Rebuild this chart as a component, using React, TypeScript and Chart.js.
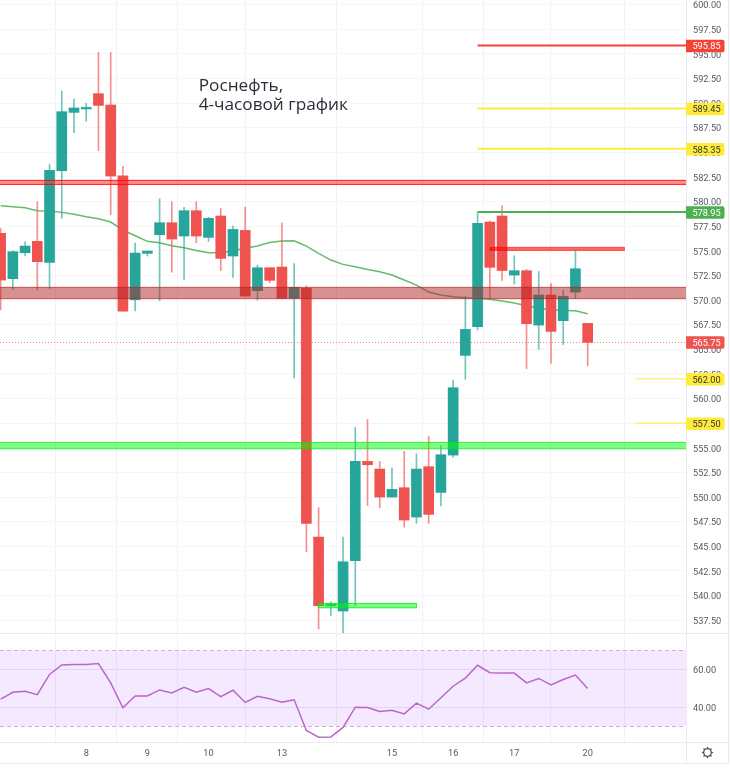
import React, { useEffect, useRef } from "react";
import { Chart, registerables } from "chart.js";

Chart.register(...registerables);

const opens = [576.77,572.17,574.8,575.96,573.82,583.13,589.05,589.4,590.95,589.8,582.62,570.03,574.74,576.63,577.85,576.5,579.07,576.36,578.53,574.47,577.07,570.95,573.28,573.35,570.17,571.2,545.94,538.95,538.43,543.54,553.62,552.84,550.0,550.95,547.97,553.08,550.47,554.26,564.38,567.3,577.92,578.53,572.54,572.98,567.46,570.51,567.9,570.81,567.63];
const closes = [572.03,574.91,575.48,573.89,583.16,589.12,589.5,589.5,589.76,582.59,568.88,574.77,574.97,577.85,576.19,579.07,576.5,578.29,574.23,577.17,570.4,573.28,572.0,570.17,571.29,547.33,538.97,539.1,543.43,553.62,553.28,550.0,550.78,547.67,552.84,548.24,554.3,561.1,567.02,577.79,573.32,573.0,572.98,567.6,570.51,566.82,570.37,573.18,565.7];
const highs = [577.28,575.0,575.92,579.98,583.8,591.2,590.4,589.97,595.14,595.14,583.57,575.79,575.0,580.29,579.98,579.4,579.98,578.4,579.3,577.5,579.44,573.55,573.28,577.85,573.7,571.45,548.92,539.37,545.94,557.07,557.88,553.62,552.94,554.64,554.4,556.19,555.25,561.88,570.41,578.87,578.02,579.6,574.5,573.1,572.9,571.66,571.0,574.98,567.63];
const lows = [568.99,571.08,574.47,571.0,571.18,578.3,586.99,588.14,585.16,578.66,568.88,568.9,574.47,569.93,572.84,572.1,575.82,575.96,572.98,572.3,570.4,570.0,571.76,570.17,562.1,544.45,536.6,537.95,536.23,538.93,549.15,548.92,550.0,546.95,547.33,547.33,549.09,554.03,561.95,566.96,570.14,572.0,571.63,563.03,564.99,563.57,565.47,570.17,563.34];
const maValues = [579.58,579.48,579.37,579.07,579.04,578.9,578.7,578.46,578.26,577.92,577.11,576.53,575.96,575.82,575.52,575.31,575.04,574.8,574.8,575.0,575.25,575.48,575.85,575.99,576.02,575.48,574.74,574.06,573.62,573.38,573.1,572.88,572.54,572.03,571.52,570.81,570.51,570.34,570.24,570.17,570.07,569.9,569.7,569.42,569.19,568.99,568.95,568.92,568.61];
const rsiValues = [44.29,47.86,48.39,46.61,57.32,62.32,62.5,62.59,63.04,52.86,39.64,45.89,45.89,49.11,47.5,50.54,47.86,49.82,45.54,48.93,42.5,45.71,44.46,42.68,43.93,27.68,24.11,24.29,29.29,40,39.82,37.68,38.39,36.43,42.14,38.93,45,51.07,55.36,62.14,58.21,58.04,58.04,52.86,55.18,51.79,54.64,56.96,49.82];

const dateTicks = [7, 12, 17, 23, 32, 37, 42, 48];
const dateLabels = ["8", "9", "10", "13", "15", "16", "17", "20"];
const priceTicks = [600,597.5,595,592.5,590,587.5,585,582.5,580,577.5,575,572.5,570,567.5,565,562.5,560,557.5,555,552.5,550,547.5,545,542.5,540,537.5];
const rsiTicks = [40, 60];
const rsiBand = [30, 70];

const xRange = [-0.05, 56.04];
const priceRange = [536.2, 600.46];
const rsiRange = [21.6, 79.2];

// [top, bottom, fill, stroke, fromIndex, toIndex]
const zones: [number, number, string, string, number, number][] = [
  [582.15, 581.74, "rgba(255,50,50,0.55)", "rgba(255,0,0,0.85)", -1, 57],
  [571.29, 570.14, "rgba(178,34,34,0.5)", "rgba(178,34,34,0.7)", -1, 57],
  [555.55, 554.9, "rgba(0,255,0,0.5)", "rgba(0,230,30,0.7)", -1, 57],
  [539.2, 538.76, "rgba(0,255,0,0.5)", "rgba(0,230,30,0.8)", 26, 34],
  [575.35, 575.04, "rgba(255,0,0,0.6)", "rgba(255,0,0,0.6)", 40, 51],
];
// [value, fromIndex, colour, width, tag text colour]
const levels: [number, number, string, number, string][] = [
  [595.85, 39, "#f44336", 2, "#ffffff"],
  [589.45, 39, "#ffeb3b", 2, "#333333"],
  [585.35, 39, "#ffeb3b", 2, "#333333"],
  [578.95, 39, "#4caf50", 2, "#ffffff"],
  [562.0, 51.95, "#ffeb3b", 1, "#333333"],
  [557.5, 51.95, "#ffeb3b", 1, "#333333"],
];
const lastPrice = 565.75;
const noteLines = ["Роснефть,", "4-часовой график"];
const noteAnchor = [16.2, 591.2];

const UP = "#26a69a";
const DOWN = "#ef5350";
const UI_FONT = 'Roboto, "Noto Sans", sans-serif';
const AXIS_W = 44;
const X_AXIS_H = 26;

const noPadding = (s: any) => {
  s.paddingTop = 0;
  s.paddingBottom = 0;
  s.paddingLeft = 0;
  s.paddingRight = 0;
};

const overlayPlugin = {
  id: "overlays",
  afterDraw(chart: any) {
    const { ctx, chartArea: a, scales } = chart;
    const x = scales.x;
    const y = scales.y;
    ctx.save();

    // panel frame lines
    ctx.fillStyle = "#e9ebf0";
    ctx.fillRect(a.right, 0, 1, 763);
    ctx.fillRect(0, a.bottom, 728, 1);
    ctx.fillRect(0, 763, 728, 1);
    ctx.fillRect(0, y.bottom, 728, 1);
    ctx.fillRect(728, 0, 1, 764);

    // zones
    ctx.save();
    ctx.beginPath();
    ctx.rect(a.left, a.top, a.right - a.left, y.bottom);
    ctx.clip();
    for (const [top, bot, fill, stroke, from, to] of zones) {
      const x0 = x.getPixelForValue(from);
      const x1 = x.getPixelForValue(to);
      const y0 = y.getPixelForValue(top);
      const y1 = y.getPixelForValue(bot);
      ctx.fillStyle = fill;
      ctx.fillRect(x0, y0, x1 - x0, y1 - y0);
      ctx.strokeStyle = stroke;
      ctx.lineWidth = 1;
      ctx.strokeRect(x0, y0, x1 - x0, y1 - y0);
    }
    ctx.restore();

    // last price
    const lp = y.getPixelForValue(lastPrice);
    ctx.strokeStyle = "rgba(239,83,80,0.7)";
    ctx.setLineDash([1, 2]);
    ctx.lineWidth = 1;
    ctx.beginPath();
    ctx.moveTo(a.left, Math.round(lp) + 0.5);
    ctx.lineTo(a.right, Math.round(lp) + 0.5);
    ctx.stroke();
    ctx.setLineDash([]);

    // levels
    const tag = (v: number, bg: string, fg: string) => {
      const py = y.getPixelForValue(v) + 0.5;
      ctx.fillStyle = bg;
      ctx.beginPath();
      ctx.roundRect(a.right, py - 6.25, 38.5, 12.5, [0, 2, 2, 0]);
      ctx.fill();
      ctx.fillStyle = fg;
      ctx.font = `9.2px ${UI_FONT}`;
      ctx.textAlign = "center";
      ctx.textBaseline = "middle";
      ctx.fillText(v.toFixed(2), a.right + 20.5, py + 1);
    };
    for (const [v, from, col, w, fg] of levels) {
      const py = y.getPixelForValue(v);
      ctx.strokeStyle = col;
      ctx.lineWidth = w;
      ctx.beginPath();
      ctx.moveTo(x.getPixelForValue(from), py);
      ctx.lineTo(a.right, py);
      ctx.stroke();
      tag(v, col, fg);
    }
    tag(lastPrice, "#ef5350", "#ffffff");

    // note
    ctx.fillStyle = "#2a2e39";
    ctx.font = '17.2px "Open Sans", sans-serif';
    ctx.textAlign = "left";
    ctx.textBaseline = "alphabetic";
    const nx = x.getPixelForValue(noteAnchor[0]);
    const ny = y.getPixelForValue(noteAnchor[1]);
    noteLines.forEach((t, i) => ctx.fillText(t, nx, ny + i * 19));

    // gear
    const gx = 707.5;
    const gy = 752.5;
    ctx.strokeStyle = "#50535e";
    ctx.lineWidth = 1.3;
    ctx.beginPath();
    ctx.arc(gx, gy, 3.8, 0, Math.PI * 2);
    ctx.stroke();
    for (let k = 0; k < 8; k++) {
      const t = (k * Math.PI) / 4;
      ctx.beginPath();
      ctx.moveTo(gx + Math.cos(t) * 3.8, gy + Math.sin(t) * 3.8);
      ctx.lineTo(gx + Math.cos(t) * 5.6, gy + Math.sin(t) * 5.6);
      ctx.stroke();
    }
    ctx.restore();
  },
  beforeDatasetsDraw(chart: any) {
    const { ctx, chartArea: a, scales } = chart;
    const r = scales.rsi;
    const t = r.getPixelForValue(rsiBand[1]);
    const b = r.getPixelForValue(rsiBand[0]);
    ctx.save();
    ctx.fillStyle = "rgba(149,40,255,0.1)";
    ctx.fillRect(a.left, t, a.right - a.left, b - t);
    ctx.strokeStyle = "#c9b3cf";
    ctx.setLineDash([4, 3]);
    ctx.lineWidth = 1;
    for (const py of [t, b]) {
      ctx.beginPath();
      ctx.moveTo(a.left, Math.round(py) + 0.5);
      ctx.lineTo(a.right, Math.round(py) + 0.5);
      ctx.stroke();
    }
    ctx.restore();
  },
};

export default function App() {
  const ref = useRef<HTMLCanvasElement>(null);
  useEffect(() => {
    if (!ref.current) return;
    const idx = opens.map((_, i) => i);
    const colorOf = (c: any) => {
      const i = c.dataIndex;
      return closes[i] >= opens[i] ? UP : DOWN;
    };
    const wickColor = (c: any) => {
      const i = c.dataIndex;
      return closes[i] >= opens[i] ? "rgba(38,166,154,0.65)" : "rgba(239,83,80,0.65)";
    };
    const tickFont = { family: UI_FONT, size: 9.2 };
    const chart = new Chart(ref.current, {
      type: "bar",
      data: {
        datasets: [
          {
            type: "line",
            data: idx.map((i) => ({ x: i, y: maValues[i] })),
            yAxisID: "y",
            borderColor: "#66bb6a",
            borderWidth: 1.5,
            pointRadius: 0,
            tension: 0,
            order: 3,
          },
          {
            type: "bar",
            data: idx.map((i) => ({ x: i, y: [lows[i], highs[i]] })),
            yAxisID: "y",
            backgroundColor: wickColor,
            barThickness: 1,
            grouped: false,
            order: 2,
          },
          {
            type: "bar",
            data: idx.map((i) => ({ x: i, y: [opens[i], closes[i]] })),
            yAxisID: "y",
            backgroundColor: colorOf,
            barThickness: 10,
            minBarLength: 1.5,
            grouped: false,
            order: 1,
          },
          {
            type: "line",
            data: idx.map((i) => ({ x: i, y: rsiValues[i] })),
            yAxisID: "rsi",
            borderColor: "#ba68c8",
            borderWidth: 1.5,
            pointRadius: 0,
            tension: 0,
            order: 0,
          },
        ],
      } as any,
      options: {
        animation: false,
        responsive: false,
        devicePixelRatio: 1,
        layout: { padding: 0 },
        plugins: { legend: { display: false }, tooltip: { enabled: false } },
        scales: {
          x: {
            type: "linear",
            min: xRange[0],
            max: xRange[1],
            offset: false,
            grid: { color: "#f1f2f6", drawTicks: false },
            border: { display: false },
            afterBuildTicks: (s: any) => {
              s.ticks = dateTicks.map((value) => ({ value }));
            },
            afterFit: (s: any) => {
              s.height = X_AXIS_H;
              noPadding(s);
            },
            ticks: {
              font: tickFont,
              color: "#555a66",
              padding: 6,
              maxRotation: 0,
              autoSkip: false,
              callback: (v: any) => dateLabels[dateTicks.indexOf(Number(v))] ?? "",
            },
          },
          y: {
            type: "linear",
            position: "right",
            stack: "right",
            stackWeight: 633,
            min: priceRange[0],
            max: priceRange[1],
            grid: { color: "#f5f6f8", drawTicks: false },
            border: { display: false },
            afterBuildTicks: (s: any) => {
              s.ticks = priceTicks.map((value) => ({ value }));
            },
            afterFit: (s: any) => {
              s.width = AXIS_W;
              noPadding(s);
            },
            ticks: {
              font: tickFont,
              color: "#555a66",
              padding: 7,
              labelOffset: 1.5,
              autoSkip: false,
              callback: (v: any) => Number(v).toFixed(2),
            },
          },
          rsi: {
            type: "linear",
            position: "right",
            stack: "right",
            stackWeight: 109,
            min: rsiRange[0],
            max: rsiRange[1],
            grid: { color: "#ece7f3", drawTicks: false },
            border: { display: false },
            afterBuildTicks: (s: any) => {
              s.ticks = rsiTicks.map((value) => ({ value }));
            },
            afterFit: (s: any) => {
              s.width = AXIS_W;
              noPadding(s);
            },
            ticks: {
              font: tickFont,
              color: "#555a66",
              padding: 7,
              labelOffset: 1.5,
              autoSkip: false,
              callback: (v: any) => Number(v).toFixed(2),
            },
          },
        },
      } as any,
      plugins: [overlayPlugin],
    });
    return () => chart.destroy();
  }, []);
  return (
    <canvas
      ref={ref}
      width={730}
      height={768}
      style={{ position: "fixed", left: 0, top: 0, width: 730, height: 768, background: "#fff" }}
    />
  );
}
